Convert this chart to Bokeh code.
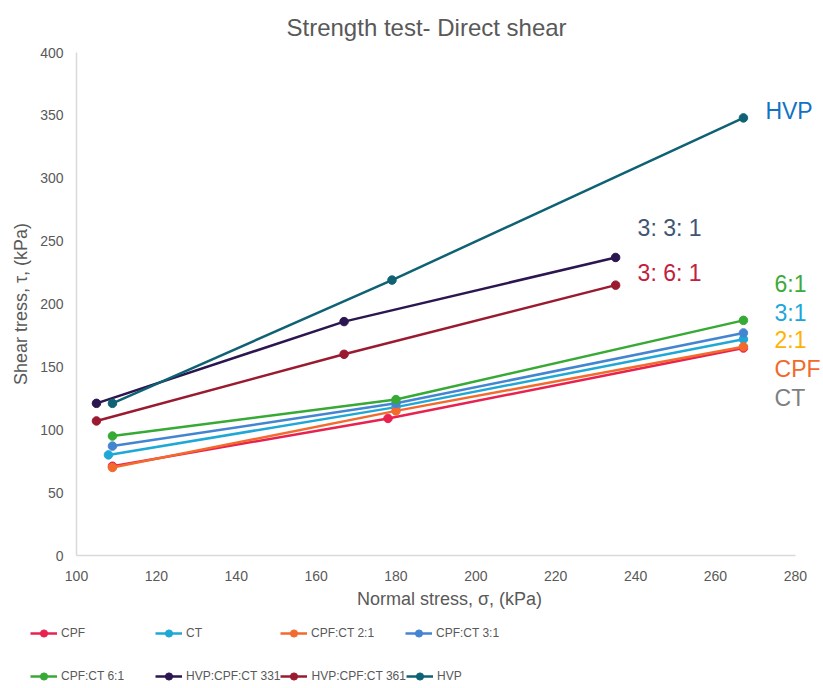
from bokeh.plotting import figure
from bokeh.models import Legend, LegendItem, Label, Range1d, FixedTicker
from bokeh.embed import file_html
from bokeh.resources import INLINE

# ---- data ----
series_names = ["CPF", "CT", "CPF:CT 2:1", "CPF:CT 3:1", "CPF:CT 6:1",
                "HVP:CPF:CT 331", "HVP:CPF:CT 361", "HVP"]

normal_cpf = [109, 178, 267]
shear_cpf = [71, 109, 165]

normal_ct = [108, 180, 267]
shear_ct = [80, 118, 172]

normal_cpf_ct_21 = [109, 180, 267]
shear_cpf_ct_21 = [70, 115, 166]

normal_cpf_ct_31 = [109, 180, 267]
shear_cpf_ct_31 = [87, 121, 177]

normal_cpf_ct_61 = [109, 180, 267]
shear_cpf_ct_61 = [95, 124, 187]

normal_hvp_331 = [105, 167, 235]
shear_hvp_331 = [121, 186, 237]

normal_hvp_361 = [105, 167, 235]
shear_hvp_361 = [107, 160, 215]

normal_hvp = [109, 179, 267]
shear_hvp = [121, 219, 348]

x_ticks = [100, 120, 140, 160, 180, 200, 220, 240, 260, 280]
y_ticks = [0, 50, 100, 150, 200, 250, 300, 350, 400]

# annotation texts beside the curves
note_texts = ["HVP", "3: 3: 1", "3: 6: 1", "6:1", "3:1", "2:1", "CPF", "CT"]
note_x = [272.5, 240.5, 240.5, 274.8, 274.8, 274.8, 274.8, 274.8]
note_y = [353.5, 260.5, 225.0, 216.0, 193.0, 171.0, 148.5, 125.5]
note_colors = ["#1172C4", "#3E5574", "#C2203C", "#3DAA3A", "#1EA6DA",
               "#FFB300", "#F2692C", "#7F7F7F"]

series_x = [normal_cpf, normal_ct, normal_cpf_ct_21, normal_cpf_ct_31,
            normal_cpf_ct_61, normal_hvp_331, normal_hvp_361, normal_hvp]
series_y = [shear_cpf, shear_ct, shear_cpf_ct_21, shear_cpf_ct_31,
            shear_cpf_ct_61, shear_hvp_331, shear_hvp_361, shear_hvp]
series_colors = ["#E8214F", "#1FA8D6", "#F26A2E", "#4485D1", "#37A935",
                 "#2B1650", "#9A1B30", "#0F6274"]

FONT = "Liberation Sans"
GREY = "#595959"

p = figure(width=822, height=612, output_backend="svg", toolbar_location=None,
           x_range=Range1d(100, 286.8), y_range=Range1d(0, 400),
           min_border_left=76, min_border_right=0, min_border_top=52,
           min_border_bottom=57,
           title="Strength test- Direct shear")
p.outline_line_color = None
p.xgrid.visible = False
p.ygrid.visible = False

p.title.align = "left"
p.title.vertical_align = "top"
p.title.offset = 210
p.title.text_font = FONT
p.title.text_font_size = "24px"
p.title.text_font_style = "normal"
p.title.text_color = GREY
p.title.standoff = 20

for ax in (p.xaxis[0], p.yaxis[0]):
    ax.axis_line_color = "#D9D9D9"
    ax.axis_line_width = 1.5
    ax.major_tick_line_color = None
    ax.minor_tick_line_color = None
    ax.major_tick_out = 0
    ax.major_tick_in = 0
    ax.minor_tick_out = 0
    ax.minor_tick_in = 0
    ax.major_label_text_font = FONT
    ax.major_label_text_font_size = "14px"
    ax.major_label_text_color = GREY
    ax.axis_label_text_font = FONT
    ax.axis_label_text_font_size = "18px"
    ax.axis_label_text_font_style = "normal"
    ax.axis_label_text_color = GREY

p.xaxis.bounds = (100, 280)
p.xaxis.ticker = FixedTicker(ticks=x_ticks)
p.yaxis.ticker = FixedTicker(ticks=y_ticks)
p.xaxis.axis_label = "Normal stress, σ, (kPa)"
p.yaxis.axis_label = "Shear tress, τ, (kPa)"
p.xaxis.major_label_standoff = 15
p.yaxis.major_label_standoff = 13
p.xaxis.axis_label_standoff = 5
p.yaxis.axis_label_standoff = 6

for xs, ys, c in zip(series_x, series_y, series_colors):
    p.line(xs, ys, line_color=c, line_width=2.5)
    p.scatter(xs, ys, marker="circle", size=8.5, fill_color=c, line_color=c)

for t, x, y, c in zip(note_texts, note_x, note_y, note_colors):
    p.add_layout(Label(x=x, y=y, text=t, text_color=c, text_font=FONT,
                       text_font_size="23px", text_baseline="middle",
                       text_align="left"))

# ---- legend strip below the chart (same series, kept out of its view) ----
lg = figure(width=822, height=74, output_backend="svg", toolbar_location=None,
            min_border=0, x_range=Range1d(0, 1), y_range=Range1d(0, 1))
lg.axis.visible = False
lg.grid.visible = False
lg.outline_line_color = None

items = []
for name, xs, ys, c in zip(series_names, series_x, series_y, series_colors):
    ln = lg.line(xs, ys, line_color=c, line_width=2.5)
    sc = lg.scatter(xs, ys, marker="circle", size=8.5, fill_color=c, line_color=c)
    items.append(LegendItem(label=name, renderers=[ln, sc]))

legend_rows = [items[:4], items[4:]]
legend_locs = [(30, 44), (30, 1)]
for row, loc in zip(legend_rows, legend_locs):
    leg = Legend(items=row, orientation="horizontal", location=loc,
                 glyph_width=27, glyph_height=18, label_height=18,
                 label_width=94, label_standoff=4, spacing=0, padding=0,
                 margin=0, border_line_color=None, background_fill_alpha=0,
                 label_text_font=FONT,
                 label_text_font_size="12px", label_text_color=GREY)
    lg.add_layout(leg, "center")

open("out.html", "w").write(file_html([p, lg], INLINE))
